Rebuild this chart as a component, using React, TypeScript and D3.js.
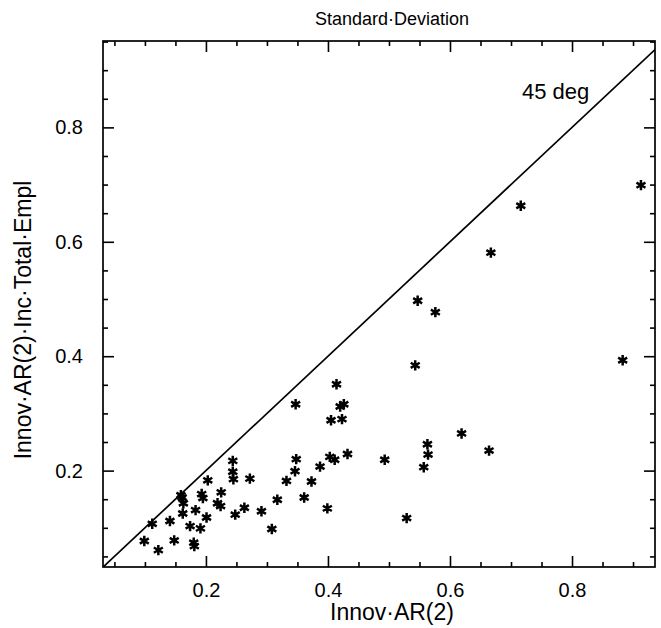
import { useEffect, useRef } from 'react'
import * as d3 from 'd3'

// scatter values
const xValues = [
  0.913, 0.716, 0.667, 0.883, 0.664, 0.547, 0.576, 0.543, 0.414, 0.347,
  0.420, 0.426, 0.405, 0.423, 0.619, 0.563, 0.564, 0.557, 0.348, 0.346,
  0.387, 0.403, 0.411, 0.432, 0.493, 0.373, 0.361, 0.399, 0.529, 0.332,
  0.317, 0.291, 0.308, 0.263, 0.248, 0.244, 0.244, 0.245, 0.272, 0.203,
  0.225, 0.219, 0.224, 0.193, 0.195, 0.161, 0.159, 0.163, 0.162, 0.183,
  0.201, 0.174, 0.191, 0.141, 0.112, 0.099, 0.122, 0.148, 0.180, 0.181,
]
const yValues = [
  0.699, 0.663, 0.581, 0.393, 0.235, 0.497, 0.477, 0.384, 0.351, 0.316,
  0.312, 0.316, 0.288, 0.290, 0.265, 0.246, 0.228, 0.206, 0.220, 0.199,
  0.207, 0.224, 0.219, 0.229, 0.219, 0.181, 0.153, 0.134, 0.117, 0.182,
  0.149, 0.129, 0.098, 0.135, 0.123, 0.217, 0.198, 0.185, 0.186, 0.183,
  0.162, 0.143, 0.138, 0.159, 0.152, 0.153, 0.157, 0.143, 0.125, 0.131,
  0.118, 0.103, 0.099, 0.112, 0.107, 0.077, 0.061, 0.078, 0.074, 0.068,
]
const majorTicks = [0.2, 0.4, 0.6, 0.8]
const xDomain = [0.0313, 0.936]
const yDomain = [0.0315, 0.951]
const refLine = [0, 1]

const title = 'Standard·Deviation'
const xLabel = 'Innov·AR(2)'
const yLabel = 'Innov·AR(2)·Inc·Total·Empl'
const lineLabel = '45 deg'

const FONT = '"Liberation Sans", Arial, Helvetica, sans-serif'

export default function App() {
  const ref = useRef<SVGSVGElement | null>(null)

  useEffect(() => {
    const svg = d3.select(ref.current)
    svg.selectAll('*').remove()

    const left = 103, right = 655, top = 41, bottom = 567

    const x = d3.scaleLinear().domain(xDomain).range([left, right])
    const y = d3.scaleLinear().domain(yDomain).range([bottom, top])

    const minorX = x.ticks(20).filter(t => !majorTicks.some(m => Math.abs(m - t) < 1e-6))
    const minorY = y.ticks(20).filter(t => !majorTicks.some(m => Math.abs(m - t) < 1e-6))

    const styleAxis = (g: any) => {
      g.select('.domain').remove()
      g.selectAll('line').attr('stroke', '#000').attr('stroke-width', 1.6)
      g.selectAll('text')
        .attr('font-family', FONT)
        .attr('font-size', 20)
        .attr('fill', '#000')
    }

    // bottom
    svg.append('g').attr('transform', `translate(0,${bottom})`)
      .call(d3.axisBottom(x).tickValues(majorTicks).tickSize(-11).tickPadding(16).tickFormat(d3.format('.1f')))
      .call(styleAxis)
    svg.append('g').attr('transform', `translate(0,${bottom})`)
      .call(d3.axisBottom(x).tickValues(minorX).tickSize(-5).tickFormat(() => ''))
      .call(styleAxis)
    // top
    svg.append('g').attr('transform', `translate(0,${top})`)
      .call(d3.axisTop(x).tickValues(majorTicks).tickSize(-11).tickFormat(() => ''))
      .call(styleAxis)
    svg.append('g').attr('transform', `translate(0,${top})`)
      .call(d3.axisTop(x).tickValues(minorX).tickSize(-5).tickFormat(() => ''))
      .call(styleAxis)
    // left
    svg.append('g').attr('transform', `translate(${left},0)`)
      .call(d3.axisLeft(y).tickValues(majorTicks).tickSize(-11).tickPadding(20).tickFormat(d3.format('.1f')))
      .call(styleAxis)
    svg.append('g').attr('transform', `translate(${left},0)`)
      .call(d3.axisLeft(y).tickValues(minorY).tickSize(-5).tickFormat(() => ''))
      .call(styleAxis)
    // right
    svg.append('g').attr('transform', `translate(${right},0)`)
      .call(d3.axisRight(y).tickValues(majorTicks).tickSize(-11).tickFormat(() => ''))
      .call(styleAxis)
    svg.append('g').attr('transform', `translate(${right},0)`)
      .call(d3.axisRight(y).tickValues(minorY).tickSize(-5).tickFormat(() => ''))
      .call(styleAxis)

    // frame
    svg.append('rect')
      .attr('x', left).attr('y', top)
      .attr('width', right - left).attr('height', bottom - top)
      .attr('fill', 'none').attr('stroke', '#000').attr('stroke-width', 1.7)

    svg.append('clipPath').attr('id', 'plot-clip')
      .append('rect')
      .attr('x', left).attr('y', top)
      .attr('width', right - left).attr('height', bottom - top)

    // 45 degree line
    const line = d3.line<number>().x(d => x(d)).y(d => y(d))
    svg.append('path')
      .attr('d', line(refLine))
      .attr('clip-path', 'url(#plot-clip)')
      .attr('fill', 'none')
      .attr('stroke', '#000')
      .attr('stroke-width', 1.7)

    svg.append('text')
      .attr('x', x(0.718)).attr('y', y(0.85))
      .attr('font-family', FONT).attr('font-size', 22)
      .text(lineLabel)

    // asterisk markers
    const star = (r: number) => {
      const p = d3.path()
      for (let k = 0; k < 3; k++) {
        const a = Math.PI / 2 + (k * Math.PI) / 3
        p.moveTo(r * Math.cos(a), r * Math.sin(a))
        p.lineTo(-r * Math.cos(a), -r * Math.sin(a))
      }
      return p.toString()
    }
    svg.append('g')
      .selectAll('path')
      .data(xValues.map((v, i) => [v, yValues[i]]))
      .enter().append('path')
      .attr('transform', d => `translate(${x(d[0])},${y(d[1])})`)
      .attr('d', star(5.2))
      .attr('stroke', '#000')
      .attr('stroke-width', 2.5)
      .attr('fill', 'none')

    // titles
    svg.append('text')
      .attr('x', 392).attr('y', 25)
      .attr('text-anchor', 'middle')
      .attr('font-family', FONT).attr('font-size', 18)
      .text(title)

    svg.append('text')
      .attr('x', 392).attr('y', 620)
      .attr('text-anchor', 'middle')
      .attr('font-family', FONT).attr('font-size', 23)
      .text(xLabel)

    svg.append('text')
      .attr('transform', `translate(31,320) rotate(-90)`)
      .attr('text-anchor', 'middle')
      .attr('font-family', FONT).attr('font-size', 23)
      .text(yLabel)
  }, [])

  return (
    <svg
      ref={ref}
      width={661}
      height={628}
      style={{ position: 'absolute', left: 0, top: 0, background: '#fff' }}
    />
  )
}
